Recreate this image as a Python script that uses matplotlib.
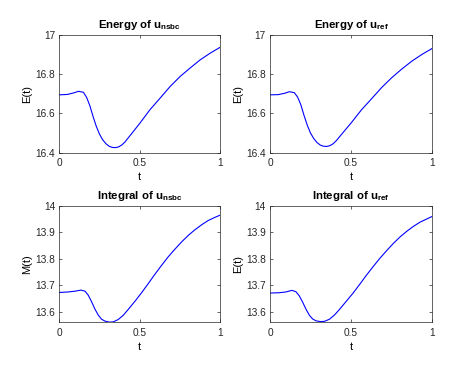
import numpy as np
import matplotlib
matplotlib.use("Agg")
import matplotlib.pyplot as plt

# Values
t_e = [0, 0.05, 0.09, 0.12, 0.15, 0.17, 0.19, 0.21, 0.23, 0.25, 0.27, 0.29, 0.31, 0.33, 0.35,
       0.37, 0.39, 0.41, 0.441, 0.502, 0.564, 0.627, 0.689, 0.751, 0.813, 0.876, 0.938, 1.0]
e_nsbc = [16.695, 16.697, 16.705, 16.713, 16.708, 16.682, 16.640, 16.585, 16.535, 16.495, 16.466,
          16.446, 16.433, 16.427, 16.426, 16.430, 16.440, 16.456, 16.488, 16.551, 16.619, 16.678,
          16.737, 16.788, 16.831, 16.873, 16.907, 16.937]
e_ref = [16.695, 16.696, 16.703, 16.711, 16.706, 16.684, 16.645, 16.590, 16.540, 16.500, 16.472,
         16.452, 16.439, 16.433, 16.432, 16.436, 16.446, 16.462, 16.493, 16.553, 16.618, 16.675,
         16.732, 16.782, 16.826, 16.867, 16.901, 16.931]

t_m = [0, 0.056, 0.098, 0.135, 0.160, 0.180, 0.201, 0.222, 0.243, 0.263, 0.284, 0.311, 0.336, 0.367,
       0.398, 0.429, 0.471, 0.512, 0.554, 0.595, 0.637, 0.678, 0.720, 0.761, 0.803, 0.844, 0.886,
       0.927, 0.969, 1.0]
m_nsbc = [13.673, 13.675, 13.678, 13.682, 13.678, 13.663, 13.638, 13.610, 13.587, 13.572, 13.565, 13.561,
          13.562, 13.571, 13.587, 13.609, 13.640, 13.672, 13.707, 13.742, 13.776, 13.808, 13.837, 13.864,
          13.889, 13.910, 13.929, 13.945, 13.957, 13.965]
m_ref = [13.671, 13.672, 13.675, 13.681, 13.676, 13.661, 13.637, 13.610, 13.587, 13.573, 13.566, 13.563,
         13.564, 13.572, 13.588, 13.609, 13.640, 13.670, 13.704, 13.738, 13.771, 13.802, 13.831, 13.858,
         13.883, 13.904, 13.923, 13.939, 13.951, 13.960]

titles = [r"Energy of $\mathbf{u_{nsbc}}$", r"Energy of $\mathbf{u_{ref}}$",
          r"Integral of $\mathbf{u_{nsbc}}$", r"Integral of $\mathbf{u_{ref}}$"]
ylabels = ["E(t)", "E(t)", "M(t)", "E(t)"]
e_ticks = [16.4, 16.6, 16.8, 17]
e_ticklabels = ["16.4", "16.6", "16.8", "17"]
m_ticks = [13.6, 13.7, 13.8, 13.9, 14]
m_ticklabels = ["13.6", "13.7", "13.8", "13.9", "14"]
x_ticks = [0, 0.5, 1]
x_ticklabels = ["0", "0.5", "1"]

plt.rcParams['font.family'] = ['Liberation Sans', 'DejaVu Sans']
plt.rcParams['mathtext.fontset'] = 'custom'
plt.rcParams['mathtext.rm'] = 'Liberation Sans'
plt.rcParams['mathtext.bf'] = 'Liberation Sans:bold'

fig = plt.figure(figsize=(4.68, 3.65), dpi=100)
positions = [[0.1267, 0.5816, 0.3434, 0.3225],
             [0.577, 0.5816, 0.346, 0.3225],
             [0.1267, 0.1178, 0.3434, 0.318],
             [0.577, 0.1178, 0.346, 0.318]]
series = [(t_e, e_nsbc), (t_e, e_ref), (t_m, m_nsbc), (t_m, m_ref)]

for i in range(4):
    ax = fig.add_axes(positions[i])
    ax.plot(series[i][0], series[i][1], color=(0, 0, 1), lw=0.8)
    ax.set_xlim(0, 1)
    if i < 2:
        ax.set_ylim(16.4, 17)
        ax.set_yticks(e_ticks)
        ax.set_yticklabels(e_ticklabels)
    else:
        ax.set_ylim(13.5615, 14)
        ax.set_yticks(m_ticks)
        ax.set_yticklabels(m_ticklabels)
    ax.set_xticks(x_ticks)
    ax.set_xticklabels(x_ticklabels)
    ax.tick_params(direction='in', length=2.5, width=0.5, labelsize=7.3,
                   top=True, right=True, colors='#262626', pad=3)
    ax.tick_params(axis='x', pad=4)
    for sp in ax.spines.values():
        sp.set_linewidth(0.5)
        sp.set_color('#262626')
    ax.set_title(titles[i], fontsize=8.2, fontweight='bold', pad=5)
    ax.set_xlabel("t", fontsize=8, labelpad=3)
    ax.set_ylabel(ylabels[i], fontsize=8, labelpad=2)

fig.savefig("out.png", dpi=100)
